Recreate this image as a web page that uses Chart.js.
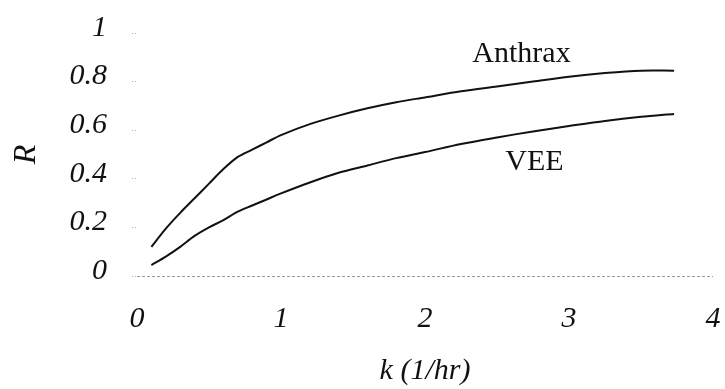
<!DOCTYPE html>
<html>
<head>
<meta charset="utf-8">
<script src="https://cdn.jsdelivr.net/npm/chart.js@4/dist/chart.umd.min.js"></script>
<style>
  html, body { margin: 0; padding: 0; background: #fff; }
  #wrap { width: 725px; height: 389px; }
</style>
</head>
<body>
<div id="wrap"><canvas id="rate-chart"></canvas></div>
<script>
// k (1/hr) sample points and R for each agent
const kValues = [0.1, 0.2, 0.3, 0.4, 0.5, 0.6, 0.7, 0.8, 0.9, 1.0, 1.2, 1.4, 1.6, 1.8, 2.0, 2.25, 2.5, 2.75, 3.0, 3.25, 3.5, 3.73];
const anthraxR = [0.12, 0.195, 0.26, 0.32, 0.38, 0.44, 0.49, 0.52, 0.55, 0.58, 0.625, 0.66, 0.69, 0.715, 0.735, 0.76, 0.78, 0.80, 0.82, 0.835, 0.845, 0.845];
const veeR = [0.045, 0.08, 0.12, 0.165, 0.20, 0.23, 0.265, 0.29, 0.315, 0.34, 0.385, 0.425, 0.455, 0.485, 0.51, 0.543, 0.57, 0.595, 0.617, 0.638, 0.655, 0.667];

const xTicks = [0, 1, 2, 3, 4];
const yTicks = [0, 0.2, 0.4, 0.6, 0.8, 1];

// curve labels, placed in data coordinates
const curveLabels = [
    { text: "Anthrax", k: 2.67, r: 0.915 },
    { text: "VEE", k: 2.76, r: 0.47 },
];

const serif = "'Liberation Serif', 'Times New Roman', serif";
const ink = "#111";

function toPoints(ys) {
    return kValues.map((k, i) => ({ x: k, y: ys[i] }));
}

// draws the curve names next to the lines
const curveLabelPlugin = {
    id: "curveLabels",
    afterDatasetsDraw(chart) {
        const { ctx, scales } = chart;
        ctx.save();
        ctx.font = "30px " + serif;
        ctx.fillStyle = ink;
        ctx.textAlign = "center";
        ctx.textBaseline = "middle";
        curveLabels.forEach((l) => {
            ctx.fillText(l.text, scales.x.getPixelForValue(l.k), scales.y.getPixelForValue(l.r));
        });
        ctx.restore();
    },
};

const lineStyle = {
    borderColor: ink,
    borderWidth: 2,
    pointRadius: 0,
    fill: false,
    tension: 0.3,
};

const tickFont = { family: serif, size: 30, style: "italic" };

new Chart(document.getElementById("rate-chart").getContext("2d"), {
    type: "line",
    data: {
        datasets: [
            { label: "Anthrax", data: toPoints(anthraxR), ...lineStyle },
            { label: "VEE", data: toPoints(veeR), ...lineStyle },
        ],
    },
    options: {
        responsive: true,
        maintainAspectRatio: false,
        animation: false,
        layout: { padding: { top: 33, right: 12, left: 0, bottom: 0 } },
        plugins: {
            legend: { display: false },
            tooltip: { enabled: false },
        },
        scales: {
            x: {
                type: "linear",
                min: 0,
                max: 4,
                afterBuildTicks: (axis) => {
                    axis.ticks = xTicks.map((v) => ({ value: v }));
                },
                // fixed height, and no extra room for the end labels
                afterFit: (axis) => {
                    axis.height = 113;
                    axis.paddingLeft = 0;
                    axis.paddingRight = 0;
                },
                grid: { display: false },
                border: { display: false },
                ticks: {
                    color: ink,
                    padding: 17,
                    font: tickFont,
                },
                title: {
                    display: true,
                    text: "k (1/hr)",
                    color: ink,
                    padding: 0,
                    font: tickFont,
                },
            },
            y: {
                min: 0,
                max: 1,
                afterBuildTicks: (axis) => {
                    axis.ticks = yTicks.map((v) => ({ value: v }));
                },
                afterFit: (axis) => {
                    axis.width = 137;
                    axis.paddingTop = 0;
                    axis.paddingBottom = 0;
                },
                border: { display: false, dash: [3, 2] },
                grid: {
                    color: (c) => (c.tick && c.tick.value === 0 ? "#9a9a9a" : "rgba(0,0,0,0)"),
                    tickColor: "#b0b0b0",
                    tickLength: 5,
                    tickBorderDash: [1, 2],
                },
                ticks: {
                    color: ink,
                    padding: 25,
                    labelOffset: -5,
                    font: tickFont,
                    callback: (v) => String(v),
                },
                title: {
                    display: true,
                    text: "R",
                    color: ink,
                    padding: 7,
                    font: { family: serif, size: 32, style: "italic" },
                },
            },
        },
    },
    plugins: [curveLabelPlugin],
});
</script>
</body>
</html>
